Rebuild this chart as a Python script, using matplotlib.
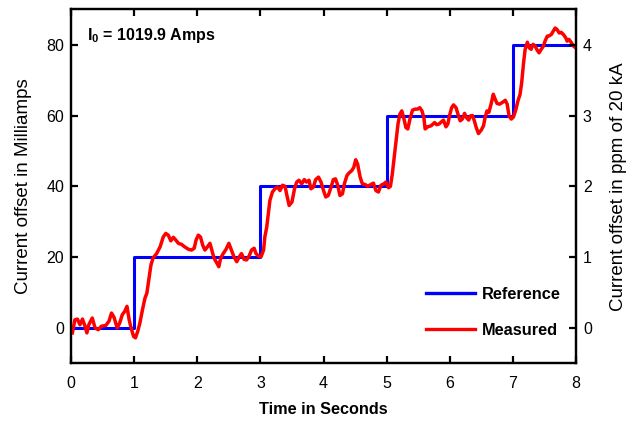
import matplotlib; matplotlib.use("Agg")
import matplotlib.pyplot as plt
from matplotlib import font_manager

# ---- data ----
t_ref = [0, 1, 3, 5, 7, 8]
i_ref = [0, 20, 40, 60, 80, 80]

t_meas = [0.02, 0.06, 0.10, 0.14, 0.18, 0.22, 0.25, 0.28, 0.335, 0.38, 0.43, 0.48,
          0.55, 0.60, 0.64, 0.68, 0.73, 0.77, 0.81, 0.85, 0.885, 0.92, 0.95, 0.99,
          1.02, 1.055, 1.09, 1.13, 1.17, 1.20, 1.235, 1.265, 1.30, 1.355, 1.41, 1.46,
          1.50, 1.54, 1.58, 1.62, 1.66, 1.70, 1.75, 1.80, 1.86, 1.91, 1.95, 1.98,
          2.015, 2.05, 2.085, 2.12, 2.16, 2.20, 2.23, 2.265, 2.31, 2.34, 2.37, 2.41,
          2.455, 2.50, 2.54, 2.58, 2.625, 2.665, 2.70, 2.74, 2.78, 2.82, 2.86, 2.90,
          2.93, 2.97, 3.01, 3.05, 3.07, 3.10, 3.125, 3.15, 3.19, 3.23, 3.27, 3.31,
          3.35, 3.39, 3.42, 3.455, 3.50, 3.54, 3.575, 3.61, 3.655, 3.695, 3.73, 3.77,
          3.80, 3.84, 3.875, 3.92, 3.96, 4.00, 4.035, 4.075, 4.12, 4.155, 4.19, 4.225,
          4.26, 4.30, 4.33, 4.37, 4.40, 4.45, 4.48, 4.51, 4.54, 4.58, 4.615, 4.66,
          4.70, 4.74, 4.79, 4.83, 4.87, 4.91, 4.955, 4.99, 5.03, 5.06, 5.09, 5.12,
          5.15, 5.18, 5.21, 5.24, 5.27, 5.305, 5.335, 5.37, 5.41, 5.45, 5.49, 5.525,
          5.56, 5.59, 5.61, 5.65, 5.705, 5.76, 5.795, 5.83, 5.875, 5.90, 5.94, 5.97,
          6.00, 6.03, 6.06, 6.10, 6.13, 6.165, 6.20, 6.235, 6.265, 6.30, 6.33, 6.36,
          6.39, 6.42, 6.455, 6.50, 6.535, 6.56, 6.59, 6.62, 6.655, 6.69, 6.72, 6.75,
          6.79, 6.835, 6.88, 6.91, 6.94, 6.975, 7.01, 7.05, 7.08, 7.115, 7.14, 7.17,
          7.195, 7.23, 7.26, 7.29, 7.32, 7.35, 7.385, 7.415, 7.45, 7.485, 7.51, 7.545,
          7.575, 7.61, 7.64, 7.67, 7.70, 7.735, 7.765, 7.80, 7.84, 7.86, 7.89, 7.93,
          7.96, 8.00]
i_meas = [-1.4, 2.3, 2.5, 0.9, 2.5, 0.5, -1.4, 0.9, 2.8, 0.0, -0.5, 0.5,
          0.7, 1.9, 4.2, 3.0, 0.0, 1.4, 3.7, 4.7, 6.1, 2.3, 0.0, -2.4,
          -2.8, -1.0, 1.4, 5.1, 8.4, 9.8, 14.0, 17.8, 19.8, 21.0, 22.9, 25.7,
          26.7, 26.2, 24.6, 25.6, 24.8, 23.9, 23.6, 22.9, 22.2, 22.0, 22.5, 24.8,
          26.2, 25.7, 23.4, 22.0, 22.9, 23.9, 22.0, 19.7, 18.3, 17.3, 19.7, 21.0,
          22.2, 23.9, 22.0, 20.1, 18.7, 20.1, 21.0, 19.4, 19.2, 20.3, 22.0, 22.5,
          21.0, 20.3, 20.1, 22.0, 25.7, 28.5, 32.3, 36.0, 38.4, 39.3, 39.8, 38.8,
          40.3, 40.0, 37.4, 34.6, 35.6, 39.3, 41.2, 41.7, 40.7, 41.9, 41.2, 41.7,
          39.3, 39.8, 41.9, 42.6, 41.2, 38.8, 37.0, 37.4, 39.8, 41.9, 42.1, 40.3,
          37.4, 37.9, 40.7, 43.0, 43.7, 44.5, 45.4, 47.5, 46.3, 42.6, 40.7, 40.5,
          40.0, 40.4, 40.9, 38.8, 38.4, 40.3, 40.7, 41.2, 39.6, 40.0, 43.5, 48.2,
          52.9, 57.6, 60.4, 61.3, 59.4, 56.6, 56.2, 59.0, 61.5, 61.8, 61.8, 62.2,
          61.3, 59.4, 56.2, 56.8, 57.1, 58.0, 57.4, 57.6, 58.3, 58.7, 56.8, 57.6,
          60.2, 62.2, 63.0, 62.2, 60.4, 58.5, 59.0, 60.6, 59.4, 58.7, 59.9, 60.0,
          58.5, 56.6, 54.9, 55.9, 57.1, 59.4, 61.3, 60.9, 63.2, 66.0, 64.6, 63.4,
          63.2, 63.7, 64.3, 63.2, 59.9, 59.0, 59.6, 61.8, 64.1, 66.0, 69.3, 74.9,
          78.7, 80.7, 79.1, 78.7, 80.1, 79.7, 78.5, 77.7, 78.7, 79.6, 81.0, 82.4,
          82.5, 82.9, 83.8, 84.7, 84.3, 83.3, 83.5, 82.9, 81.9, 81.0, 81.5, 80.5,
          79.6, 79.1]

x_ticks = [0, 1, 2, 3, 4, 5, 6, 7, 8]
left_ticks = [0, 20, 40, 60, 80]
right_ticks = [0, 1, 2, 3, 4]

names = {f.name for f in font_manager.fontManager.ttflist}
narrow = "Liberation Sans Narrow" if "Liberation Sans Narrow" in names else "Liberation Sans"
bold = "Liberation Sans"

plt.rcParams["mathtext.fontset"] = "custom"
plt.rcParams["mathtext.rm"] = "Liberation Sans:bold"
plt.rcParams["mathtext.bf"] = "Liberation Sans:bold"

fig = plt.figure(figsize=(6.35, 4.22), dpi=100)
ax = fig.add_axes([0.112, 0.139, 0.795, 0.839])
ax2 = ax.twinx()

ax.step(t_ref, i_ref, where="post", color="#0000ff", lw=2.2, label="Reference", zorder=2)
ax.plot(t_meas, i_meas, color="#ff0000", lw=2.5, label="Measured", zorder=3)

ax.set_xlim(0, 8)
ax.set_ylim(-10, 90)
ax2.set_ylim(-0.5, 4.5)
ax.set_xticks(x_ticks)
ax.set_yticks(left_ticks)
ax2.set_yticks(right_ticks)

for a in (ax, ax2):
    for s in a.spines.values():
        s.set_linewidth(1.6)
ax.tick_params(direction="in", length=5, width=1.6, top=True, right=False,
               labelsize=11.5, pad=5)
ax.tick_params(axis="x", pad=9)
ax2.tick_params(direction="in", length=5, width=1.6, labelsize=11.5, pad=5)
for lab in ax.get_xticklabels() + ax.get_yticklabels() + ax2.get_yticklabels():
    lab.set_fontfamily(narrow)

ax.set_xlabel("Time in Seconds", fontfamily=bold, fontweight="bold", fontsize=11.7)
ax.xaxis.set_label_coords(0.5, -0.108)
ax.set_ylabel("Current offset in Milliamps", fontfamily=narrow, fontsize=13.5)
ax.yaxis.set_label_coords(-0.078, 0.5)
ax2.set_ylabel("Current offset in ppm of 20 kA", fontfamily=narrow, fontsize=13.5)
ax2.yaxis.set_label_coords(1.067, 0.5)

ax.text(0.031, 0.913, r"$\mathbf{I_0}$ = 1019.9 Amps", transform=ax.transAxes,
        fontfamily=bold, fontweight="bold", fontsize=11.5, va="baseline", ha="left")

leg = ax.legend(loc="upper left", bbox_to_anchor=(0.703, 0.215), frameon=False,
                handlelength=3.0, handletextpad=0.4, labelspacing=1.25, borderpad=0,
                borderaxespad=0, prop={"family": bold, "weight": "bold", "size": 11.8})
for h in leg.get_lines():
    h.set_linewidth(2.4)

fig.savefig("out.png", dpi=100, facecolor="white")
